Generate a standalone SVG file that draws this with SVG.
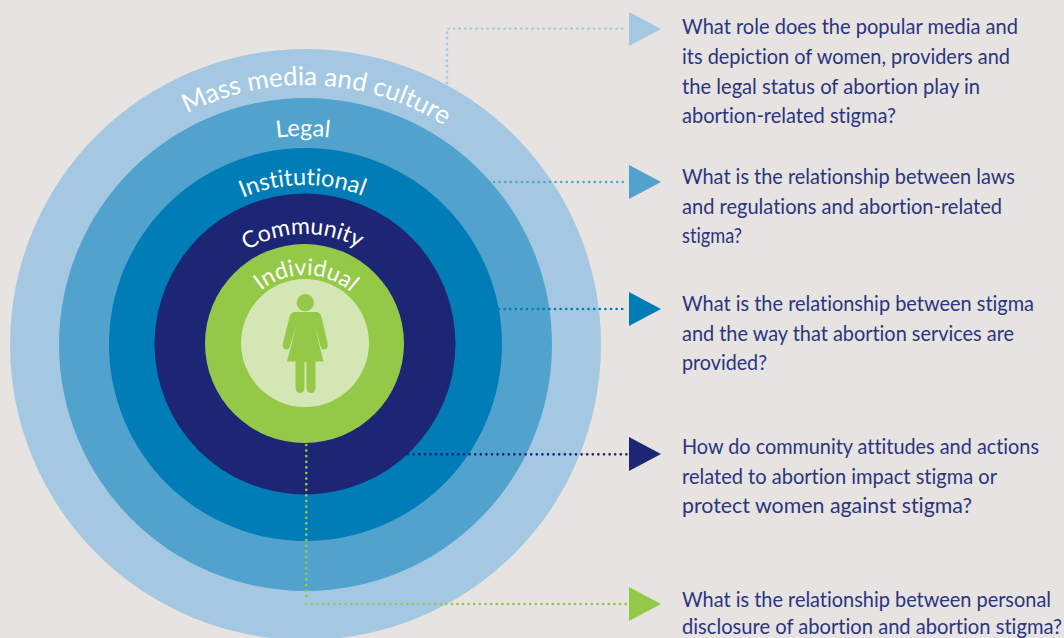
<svg xmlns="http://www.w3.org/2000/svg" width="1064" height="638" viewBox="0 0 1064 638">
<style>
.r{fill:#fff;font-family:Lato,"Open Sans",sans-serif;font-size:23.5px;text-anchor:middle;font-variant-ligatures:none}
.q{fill:#2b3580;font-family:Lato,"Open Sans",sans-serif;font-size:20.5px;font-variant-ligatures:none}
.c{fill:none;stroke-width:2.7;stroke-linecap:round;stroke-dasharray:0 5.6}
</style>
<defs>
<path id="a1" d="M46 344A259 259 0 0 1 564 344"/>
<path id="a2" d="M97 344A208 208 0 0 1 513 344"/>
<path id="a3" d="M146 344A159 159 0 0 1 464 344"/>
<path id="a4" d="M195 344A110 110 0 0 1 415 344"/>
<path id="a5" d="M236 344A69 69 0 0 1 374 344"/>
</defs>
<rect width="1064" height="638" fill="#e6e3e0"/>
<g id="ring-media"><circle cx="305.5" cy="344.5" r="295.5" fill="#a5c8e2"/><text class="r" style="font-size:26px"><textPath href="#a1" startOffset="51.500%">Mass media and culture</textPath></text></g>
<g id="ring-legal"><circle cx="305.5" cy="344.5" r="246.5" fill="#52a2ce"/><text class="r"><textPath href="#a2" startOffset="49.700%">Legal</textPath></text></g>
<g id="ring-institutional"><circle cx="305.5" cy="344.5" r="196.5" fill="#007db6"/><text class="r"><textPath href="#a3" startOffset="49.500%">Institutional</textPath></text></g>
<g id="ring-community"><circle cx="305" cy="344" r="150.500" fill="#1d2674"/><text class="r" style="font-size:23px"><textPath href="#a4" startOffset="49.300%">Community</textPath></text></g>
<g id="ring-individual"><circle cx="304.500" cy="343.500" r="99.500" fill="#93c947"/><text class="r" style="font-size:23px"><textPath href="#a5" startOffset="50.500%">Individual</textPath></text></g>
<g id="person"><circle cx="305" cy="343" r="64" fill="#d3e6b4"/>
<circle cx="305.300" cy="302.700" r="8.600" fill="#93c947"/>
<path fill="#93c947" d="M295 312H316Q320 312 321.500 317L327.500 343Q328.500 349 324.500 349.500Q321.500 350 320.500 346L314.500 325L323.500 361.500H315.500V388Q315 393 311 393Q307 393 306.500 388V362H304.500V388Q304 393 300 393Q296 393 295.500 388V361.500H287L296.500 325L290 346Q289 350 286 349.500Q282 349 283 343L289.500 317Q291 312 295 312Z"/></g>
<g id="connectors">
<path class="c" stroke="#a5c8e2" d="M447 83V28.500H627"/>
<path class="c" stroke="#52a2ce" d="M494 182H627"/>
<path class="c" stroke="#007db6" d="M499 309H627"/>
<path class="c" stroke="#1d2674" d="M408 454.300H627"/>
<path class="c" stroke="#93c947" d="M306.300 445V597M306.300 604H626"/>
<polygon fill="#a5c8e2" points="629,12 661,29 629,46"/>
<polygon fill="#52a2ce" points="629,165 661,182 629,199"/>
<polygon fill="#007db6" points="629,292 661,309 629,326"/>
<polygon fill="#1d2674" points="629,437 661,454 629,471"/>
<polygon fill="#93c947" points="629,587 661,604 629,621"/>
</g>
<g id="q1"><text class="q" x="682" y="34" textLength="336" lengthAdjust="spacingAndGlyphs">What role does the popular media and</text><text class="q" x="682" y="64" textLength="328" lengthAdjust="spacingAndGlyphs">its depiction of women, providers and</text><text class="q" x="682" y="94" textLength="298" lengthAdjust="spacingAndGlyphs">the legal status of abortion play in</text><text class="q" x="682" y="123" textLength="214" lengthAdjust="spacingAndGlyphs">abortion-related stigma?</text></g>
<g id="q2"><text class="q" x="682" y="184" textLength="333" lengthAdjust="spacingAndGlyphs">What is the relationship between laws</text><text class="q" x="682" y="214" textLength="320" lengthAdjust="spacingAndGlyphs">and regulations and abortion-related</text><text class="q" x="682" y="243" textLength="60" lengthAdjust="spacingAndGlyphs">stigma?</text></g>
<g id="q3"><text class="q" x="682" y="311" textLength="352" lengthAdjust="spacingAndGlyphs">What is the relationship between stigma</text><text class="q" x="682" y="341" textLength="332" lengthAdjust="spacingAndGlyphs">and the way that abortion services are</text><text class="q" x="682" y="370" textLength="85" lengthAdjust="spacingAndGlyphs">provided?</text></g>
<g id="q4"><text class="q" x="682" y="454" textLength="357" lengthAdjust="spacingAndGlyphs">How do community attitudes and actions</text><text class="q" x="682" y="484" textLength="315" lengthAdjust="spacingAndGlyphs">related to abortion impact stigma or</text><text class="q" x="682" y="513" textLength="290" lengthAdjust="spacingAndGlyphs">protect women against stigma?</text></g>
<g id="q5"><text class="q" x="682" y="607" textLength="369" lengthAdjust="spacingAndGlyphs">What is the relationship between personal</text><text class="q" x="682" y="633.500" textLength="380" lengthAdjust="spacingAndGlyphs">disclosure of abortion and abortion stigma?</text></g>
</svg>
